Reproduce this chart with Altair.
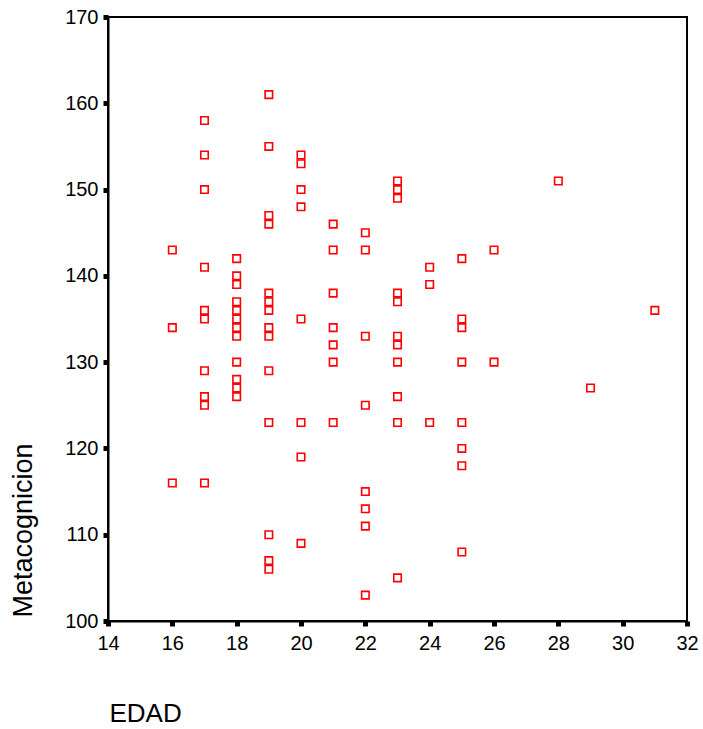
import altair as alt
import pandas as pd

# EDAD (x) and Metacognicion (y) values
edad = (
    [16] * 3 + [17] * 10 + [18] * 12 + [19] * 14 + [20] * 8 + [21] * 7 +
    [22] * 8 + [23] * 11 + [24] * 3 + [25] * 8 + [26] * 2 + [28, 29, 31]
)
meta = (
    [143, 134, 116] +
    [158, 154, 150, 141, 136, 135, 129, 126, 125, 116] +
    [142, 140, 139, 137, 136, 135, 134, 133, 130, 128, 127, 126] +
    [161, 155, 147, 146, 138, 137, 136, 134, 133, 129, 123, 110, 107, 106] +
    [154, 153, 150, 148, 135, 123, 119, 109] +
    [146, 143, 138, 134, 132, 130, 123] +
    [145, 143, 133, 125, 115, 113, 111, 103] +
    [151, 150, 149, 138, 137, 133, 132, 130, 126, 123, 105] +
    [141, 139, 123] +
    [142, 135, 134, 130, 123, 120, 118, 108] +
    [143, 130] +
    [151, 127, 136]
)
x_ticks = list(range(14, 33, 2))
y_ticks = list(range(100, 171, 10))

df = pd.DataFrame({"EDAD": edad, "Metacognicion": meta})

FONT = "Liberation Sans"

chart = (
    alt.Chart(df)
    .mark_point(shape="square", filled=False, color="#ff0000", size=56, strokeWidth=1.6, opacity=1)
    .encode(
        x=alt.X(
            "EDAD:Q",
            scale=alt.Scale(domain=[14, 32], nice=False, zero=False),
            axis=alt.Axis(
                values=x_ticks, title="EDAD", grid=False,
                titleFont=FONT, titleFontSize=26, titleFontWeight="normal", titleColor="black",
                titleAnchor="start", titleAlign="left", titleBaseline="alphabetic",
                titleX=1, titleY=100,
                labelFont=FONT, labelFontSize=20, labelColor="black", labelPadding=7,
                labelFlush=False, labelOverlap=False,
                tickSize=5, tickWidth=5, tickColor="black",
                domainColor="black", domainWidth=2,
            ),
        ),
        y=alt.Y(
            "Metacognicion:Q",
            scale=alt.Scale(domain=[100, 170], nice=False, zero=False),
            axis=alt.Axis(
                values=y_ticks, title="Metacognicion", grid=False,
                titleFont=FONT, titleFontSize=27, titleFontWeight="normal", titleColor="black",
                titleAngle=270, titleAlign="left", titleBaseline="middle",
                titleX=-85, titleY=600,
                labelFont=FONT, labelFontSize=20, labelColor="black", labelPadding=5,
                labelFlush=False, labelOverlap=False,
                tickSize=5, tickWidth=5, tickColor="black",
                domainColor="black", domainWidth=2,
            ),
        ),
    )
    .properties(
        width=579,
        height=604,
        autosize=alt.AutoSizeParams(type="none"),
        padding={"left": 108, "top": 17, "right": 15, "bottom": 108},
        background="white",
    )
    .configure_view(stroke="black", strokeWidth=2)
)

chart.save("out.html", embed_options={"renderer": "svg", "actions": False})
